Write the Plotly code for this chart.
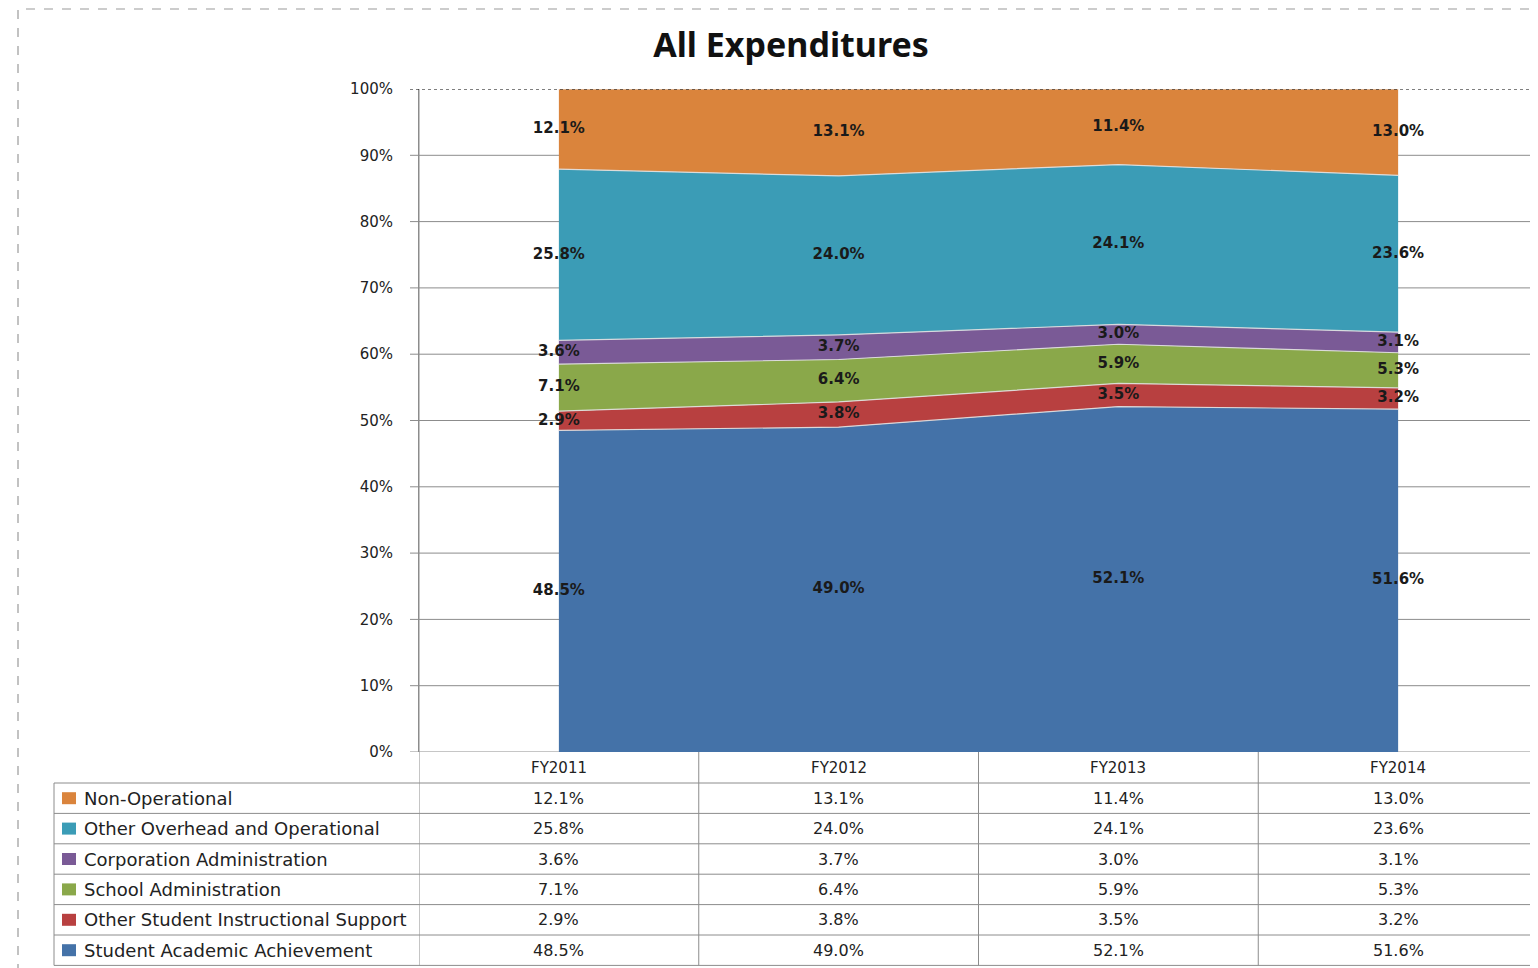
import plotly.graph_objects as go

categories = ["FY2011", "FY2012", "FY2013", "FY2014"]

# bottom-to-top stacking order
series_names = [
    "Student Academic Achievement",
    "Other Student Instructional Support",
    "School Administration",
    "Corporation Administration",
    "Other Overhead and Operational",
    "Non-Operational",
]
student_academic = [48.5, 49.0, 52.1, 51.6]
other_student_support = [2.9, 3.8, 3.5, 3.2]
school_admin = [7.1, 6.4, 5.9, 5.3]
corporation_admin = [3.6, 3.7, 3.0, 3.1]
other_overhead = [25.8, 24.0, 24.1, 23.6]
non_operational = [12.1, 13.1, 11.4, 13.0]

series_values = [student_academic, other_student_support, school_admin,
                 corporation_admin, other_overhead, non_operational]
series_colors = ["#4472A8", "#B84040", "#8AA84A", "#7A5A96", "#3B9CB6", "#DA843C"]

y_ticks = [0, 10, 20, 30, 40, 50, 60, 70, 80, 90, 100]
y_tick_labels = ["0%", "10%", "20%", "30%", "40%", "50%", "60%", "70%", "80%", "90%", "100%"]

OFF = 8  # page body margin
W, H = 1538 - OFF, 968 - OFF
# plot area in page pixels
PL, PR, PT, PB = 419, 1538, 89, 752


def px_x(px):
    return (px - PL) / (PR - PL)


def px_y(py):
    return (PB - py) / (PB - PT)


fig = go.Figure()

for name, vals, col in zip(series_names, series_values, series_colors):
    fig.add_trace(go.Scatter(
        x=categories, y=vals, name=name, mode="lines",
        stackgroup="one", groupnorm="percent",
        line=dict(color="rgba(225,225,225,0.9)", width=1.2),
        fillcolor=col, hoverinfo="skip", showlegend=False,
    ))

# data labels at the middle of each band
totals = [sum(v[i] for v in series_values) for i in range(len(categories))]
cum = [0.0] * len(categories)
for name, vals in zip(series_names, series_values):
    mids = []
    for i, v in enumerate(vals):
        lo = cum[i] / totals[i] * 100
        hi = (cum[i] + v) / totals[i] * 100
        mids.append((lo + hi) / 2)
        cum[i] += v
    fig.add_trace(go.Scatter(
        x=categories, y=mids, mode="text",
        text=[f"<b>{v:.1f}%</b>" for v in vals],
        textfont=dict(family="DejaVu Sans", size=15, color="#1a1a1a"),
        hoverinfo="skip", showlegend=False,
    ))

shapes = []
annotations = []

# dashed outer border
shapes.append(dict(type="rect", xref="paper", yref="paper",
                   x0=px_x(18), x1=px_x(1600), y0=px_y(1020), y1=px_y(9),
                   line=dict(color="#9a9a9a", width=1.2, dash="dash"), layer="below"))

# gridlines with small tick stubs
for t in y_ticks:
    shapes.append(dict(type="line", xref="paper", yref="y",
                       x0=px_x(410), x1=1.01, y0=t, y1=t,
                       line=dict(color="#000000" if t == 100 else "#8c8c8c",
                                 width=1, dash="dot" if t == 100 else "solid"),
                       layer="above" if t == 100 else "below"))

# table
row_top = 783
row_h = 30.4
n_rows = len(series_names)
table_bottom = row_top + row_h * n_rows
line_col = "#8c8c8c"
for r in range(n_rows + 1):
    yy = px_y(row_top + r * row_h)
    shapes.append(dict(type="line", xref="paper", yref="paper",
                       x0=px_x(54), x1=1.01, y0=yy, y1=yy,
                       line=dict(color=line_col, width=1)))
shapes.append(dict(type="line", xref="paper", yref="paper",
                   x0=px_x(54), x1=px_x(54), y0=px_y(row_top), y1=px_y(table_bottom),
                   line=dict(color=line_col, width=1)))
for b in [-0.5, 0.5, 1.5, 2.5]:
    shapes.append(dict(type="line", xref="x", yref="paper",
                       x0=b, x1=b,
                       y0=px_y(PB) if b != -0.5 else 1, y1=px_y(table_bottom),
                       line=dict(color=line_col, width=1)))

# header labels
for c in categories:
    annotations.append(dict(x=c, y=px_y(768), xref="x", yref="paper",
                            xanchor="center", yanchor="middle",
                            text=c, showarrow=False,
                            font=dict(family="DejaVu Sans", size=15, color="#222222")))

# table rows: top-to-bottom = reversed stacking order
for r, idx in enumerate(reversed(range(n_rows))):
    yc = row_top + row_h * r + row_h / 2
    shapes.append(dict(type="rect", xref="paper", yref="paper",
                       x0=px_x(62), x1=px_x(76), y0=px_y(yc - 6), y1=px_y(yc + 6),
                       fillcolor=series_colors[idx], line=dict(width=0)))
    annotations.append(dict(x=px_x(82), y=px_y(yc), xref="paper", yref="paper",
                            xanchor="left", yanchor="middle",
                            text=series_names[idx], showarrow=False,
                            font=dict(family="DejaVu Sans", size=18, color="#222222")))
    for i, c in enumerate(categories):
        annotations.append(dict(x=c, y=px_y(yc), xref="x", yref="paper",
                                xanchor="center", yanchor="middle",
                                text=f"{series_values[idx][i]:.1f}%", showarrow=False,
                                font=dict(family="DejaVu Sans", size=16, color="#222222")))

fig.update_layout(
    width=W, height=H,
    margin=dict(l=PL - OFF, r=0, t=PT - OFF, b=968 - PB),
    paper_bgcolor="white", plot_bgcolor="white",
    title=dict(text="<b>All Expenditures</b>", x=(791 - OFF) / W, xanchor="center",
               y=1 - (45 - OFF) / H, yanchor="middle",
               font=dict(family="Noto Sans", size=34, color="#111111")),
    xaxis=dict(range=[-0.5, 3.5], showgrid=False, showticklabels=False,
               zeroline=False, showline=False, fixedrange=True),
    yaxis=dict(range=[0, 100], tickvals=y_ticks, ticktext=y_tick_labels,
               showgrid=False, zeroline=False, showline=True, linecolor="#8c8c8c",
               ticks="", ticklabelstandoff=22,
               tickfont=dict(family="DejaVu Sans", size=15, color="#222222")),
    shapes=shapes, annotations=annotations, showlegend=False,
)

fig.write_html("out.html")
